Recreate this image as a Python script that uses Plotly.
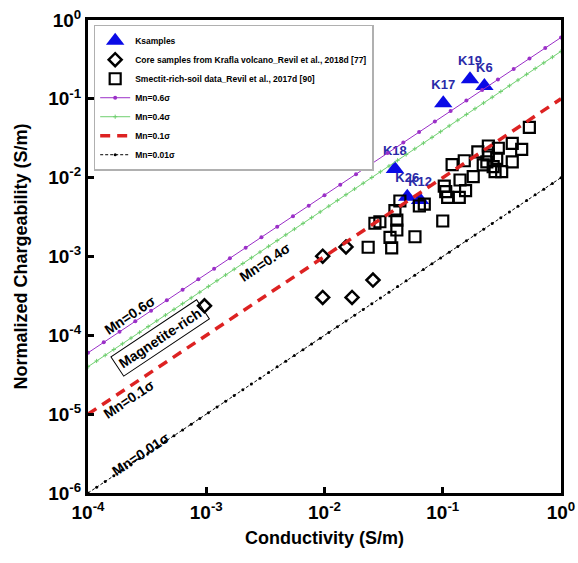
import numpy as np
import plotly.graph_objects as go

# ---- Ksamples (this study) ----
k_names = ["K17", "K19", "K6", "K18", "K26", "K12"]
k_sigma = [0.101, 0.170, 0.225, 0.0394, 0.0501, 0.0643]
k_mn = [0.0877, 0.177, 0.146, 0.0129, 0.00574, 0.00521]

# ---- Core samples, Krafla volcano (Revil et al., 2018d) ----
krafla_sigma = [9.66e-4, 0.00966, 0.0152, 0.0257, 0.00966, 0.0171]
krafla_mn = [2.37e-4, 1.01e-3, 1.32e-3, 5.03e-4, 3.02e-4, 3.02e-4]

# ---- Smectite-rich soil data (Revil et al., 2017d) ----
soil_sigma = [0.540, 0.387, 0.465, 0.387, 0.243, 0.295, 0.198, 0.243, 0.286,
              0.220, 0.267, 0.315, 0.277, 0.236, 0.152, 0.120, 0.181, 0.140,
              0.156, 0.138, 0.103, 0.106, 0.110, 0.100, 0.0698, 0.0634,
              0.0434, 0.0394, 0.0409, 0.0409, 0.0358, 0.0370, 0.0267, 0.0294,
              0.0582, 0.0234]
soil_mn = [0.0435, 0.0273, 0.0229, 0.0159, 0.0252, 0.0236, 0.0213, 0.0194,
           0.0176, 0.0145, 0.0138, 0.0119, 0.0119, 0.0159, 0.0164, 0.0146,
           0.0103, 0.00934, 0.00684, 0.00563, 0.00783, 0.00664, 0.00563,
           0.00282, 0.00463, 0.00437, 0.00506, 0.00381, 0.00290, 0.00217,
           0.00175, 0.00129, 0.00264, 0.00276, 0.00178, 0.00131]

# ---- Reference lines Mn = R * sigma ----
ratios = [0.6, 0.4, 0.1, 0.01]
ratio_names = ["Mn=0.6σ", "Mn=0.4σ", "Mn=0.1σ", "Mn=0.01σ"]
sigma_coarse = np.logspace(-4, 0, 31)
sigma_fine = np.logspace(-4, 0, 56)

tick_vals = [1e-6, 1e-5, 1e-4, 1e-3, 1e-2, 1e-1, 1]
tick_text = ["<b>10<sup>-6</sup></b>", "<b>10<sup>-5</sup></b>", "<b>10<sup>-4</sup></b>",
             "<b>10<sup>-3</sup></b>", "<b>10<sup>-2</sup></b>", "<b>10<sup>-1</sup></b>",
             "<b>10<sup>0</sup></b>"]

FONT = "Liberation Sans"

fig = go.Figure()

fig.add_trace(go.Scatter(
    x=k_sigma, y=k_mn, mode="markers+text", name="<b>Ksamples</b>",
    text=[f"<b>{n}</b>" for n in k_names], textposition="top center",
    textfont=dict(family=FONT, size=13, color="#2a2aa8"),
    marker=dict(symbol="triangle-up", size=16, color="#0a0ae6"),
))
fig.add_trace(go.Scatter(
    x=krafla_sigma, y=krafla_mn, mode="markers",
    name="<b>Core samples from Krafla volcano_Revil et al., 2018d [77]</b>",
    marker=dict(symbol="diamond-open", size=10, color="black", line=dict(width=2.5)),
))
fig.add_trace(go.Scatter(
    x=soil_sigma, y=soil_mn, mode="markers",
    name="<b>Smectit-rich-soil data_Revil et al., 2017d [90]</b>",
    marker=dict(symbol="square-open", size=11, color="black", line=dict(width=2.2)),
))

# Mn = 0.6 sigma : purple line with dots
fig.add_trace(go.Scatter(
    x=sigma_coarse, y=ratios[0] * sigma_coarse, mode="lines+markers",
    name=f"<b>{ratio_names[0]}</b>",
    line=dict(color="#9b30c8", width=1), marker=dict(size=4, color="#9b30c8"),
))
# Mn = 0.4 sigma : light green line with tiny ticks
fig.add_trace(go.Scatter(
    x=sigma_fine, y=ratios[1] * sigma_fine, mode="lines+markers",
    name=f"<b>{ratio_names[1]}</b>",
    line=dict(color="#6fcf6f", width=1),
    marker=dict(symbol="cross-thin", size=3, color="#6fcf6f", line=dict(width=1, color="#6fcf6f")),
))
# Mn = 0.1 sigma : thick red dashes
fig.add_trace(go.Scatter(
    x=sigma_coarse, y=ratios[2] * sigma_coarse, mode="lines",
    name=f"<b>{ratio_names[2]}</b>",
    line=dict(color="#dd2222", width=3.5, dash="10px,7px"),
))
# Mn = 0.01 sigma : black dash with dots
fig.add_trace(go.Scatter(
    x=sigma_fine, y=ratios[3] * sigma_fine, mode="lines+markers",
    name=f"<b>{ratio_names[3]}</b>",
    line=dict(color="black", width=1, dash="3px,2px"), marker=dict(size=3, color="black"),
))

angle = -33.7
lab = dict(family=FONT, size=14, color="black")
notes = [
    ("<b>Mn=0.6σ</b>", -3.645, -3.742),
    ("<b>Mn=0.4σ</b>", -2.503, -3.070),
    ("<b>Mn=0.1σ</b>", -3.653, -4.808),
    ("<b>Mn=0.01σ</b>", -3.552, -5.506),
]
for txt, lx, ly in notes:
    fig.add_annotation(x=lx, y=ly, xref="x", yref="y", text=txt, showarrow=False,
                       textangle=angle, font=lab)
fig.add_annotation(x=-3.391, y=-4.03, xref="x", yref="y", text="<b>Magnetite-rich</b>",
                   showarrow=False, textangle=angle, font=lab,
                   bordercolor="black", borderwidth=1, borderpad=3, bgcolor="rgba(255,255,255,0)")

axis_common = dict(
    type="log", showgrid=False, zeroline=False, automargin=False,
    showline=True, linecolor="black", linewidth=3, mirror=True,
    ticks="inside", ticklen=6, tickwidth=2.5, tickcolor="black",
    tickvals=tick_vals, ticktext=tick_text,
    tickfont=dict(family=FONT, size=19, color="black"),
)

fig.update_layout(
    width=578, height=563,
    margin=dict(l=88, r=17, t=20, b=70),
    paper_bgcolor="white", plot_bgcolor="white",
    font=dict(family=FONT, color="black"),
    xaxis=dict(**axis_common, range=[-4, 0],
               title=dict(text="<b>Conductivity (S/m)</b>", font=dict(family=FONT, size=18), standoff=10)),
    yaxis=dict(**axis_common, range=[-6, 0],
               title=dict(text="<b>Normalized Chargeability (S/m)</b>", font=dict(family=FONT, size=18), standoff=16)),
    showlegend=True,
    legend=dict(x=0.012, y=0.99, xanchor="left", yanchor="top",
                bgcolor="white", bordercolor="#b0b0b0", borderwidth=1.5,
                font=dict(family=FONT, size=8.5, color="black"),
                itemwidth=30, tracegroupgap=0),
)

fig.write_html("out.html")
